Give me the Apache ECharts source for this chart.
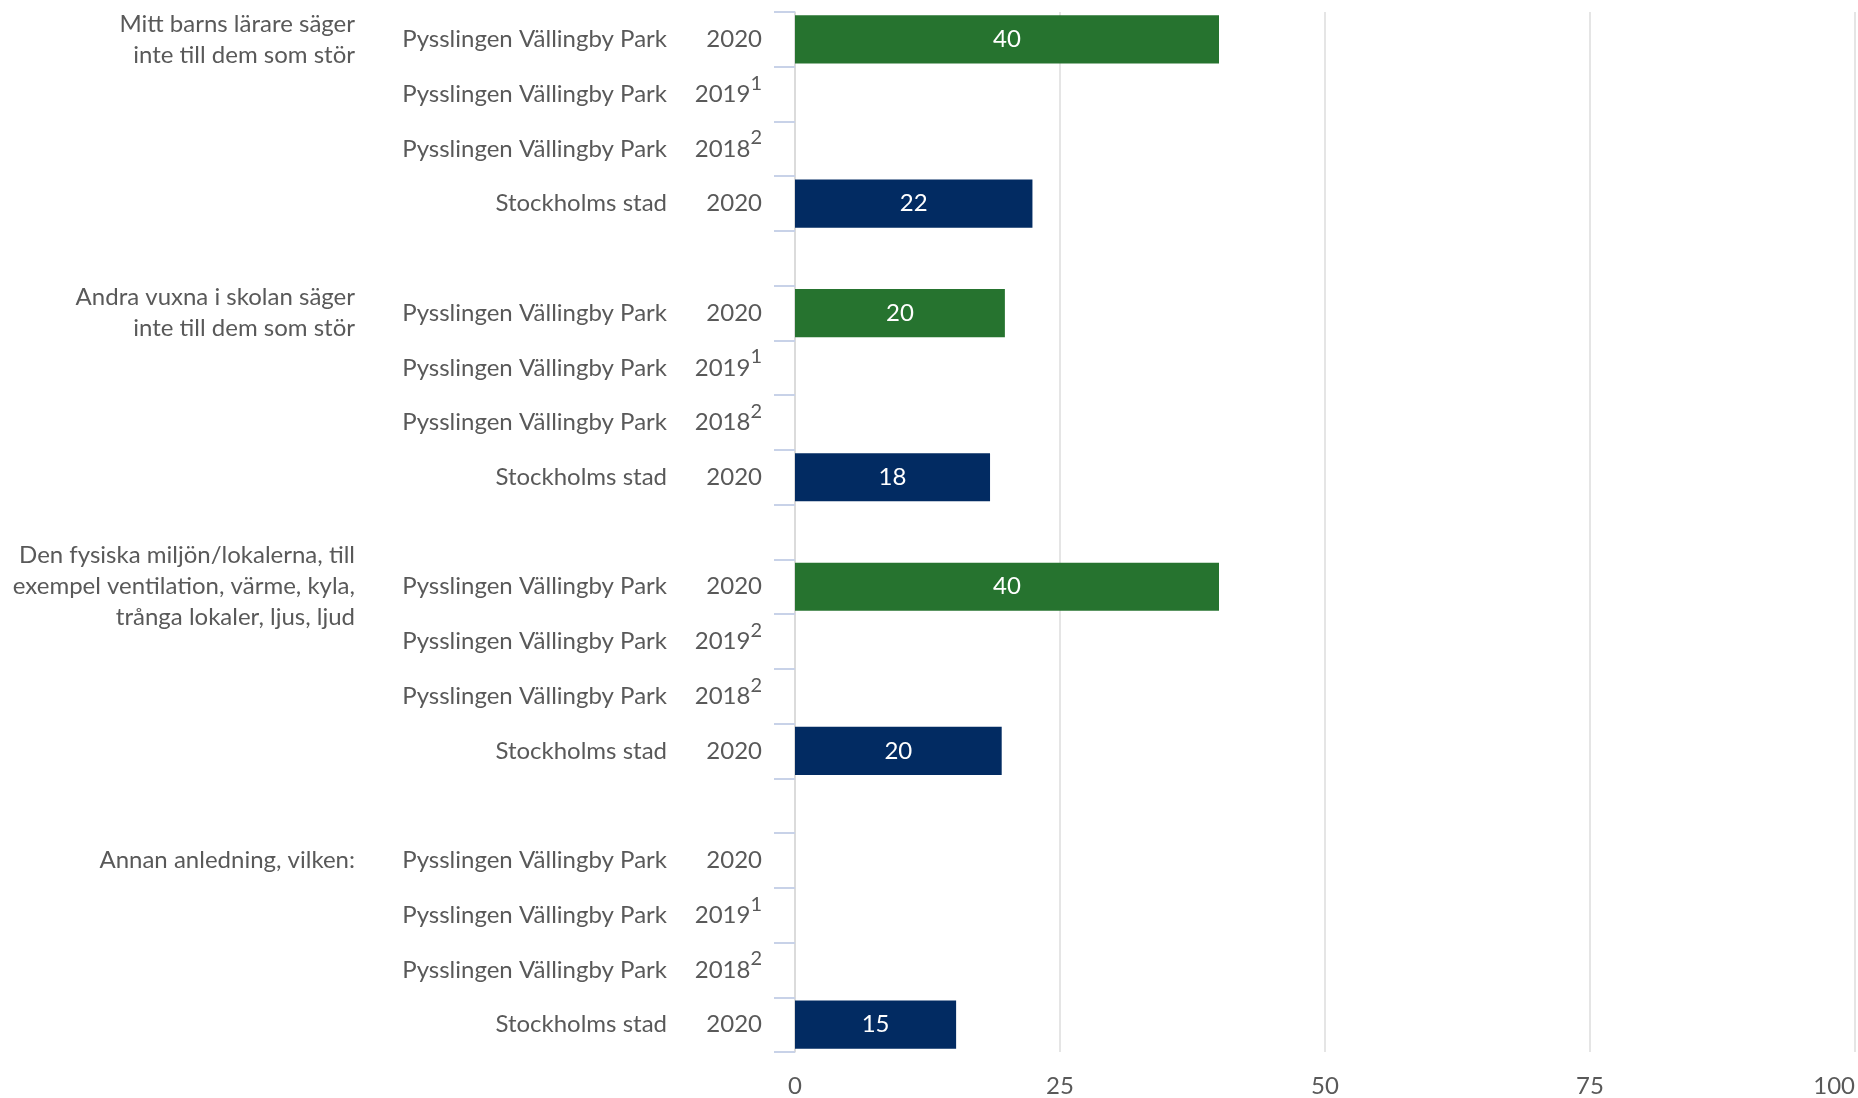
<!DOCTYPE html>
<html lang="sv">
<head>
    <meta charset="UTF-8">
    <title>Anledningar</title>
    <script src="https://cdn.jsdelivr.net/npm/echarts@6/dist/echarts.min.js"></script>
    <style>
        html, body { margin: 0; padding: 0; background: #fff; }
        #chart { width: 1858px; height: 1098px; }
    </style>
</head>
<body>
    <div id="chart"></div>
    <script>
        // question groups, shown once next to the first row of each group
        var groups = [
            'Mitt barns lärare säger\ninte till dem som stör',
            'Andra vuxna i skolan säger\ninte till dem som stör',
            'Den fysiska miljön/lokalerna, till\nexempel ventilation, värme, kyla,\ntrånga lokaler, ljus, ljud',
            'Annan anledning, vilken:'
        ];
        var rowNames = ['Pysslingen Vällingby Park', 'Pysslingen Vällingby Park', 'Pysslingen Vällingby Park', 'Stockholms stad'];
        var rowYears = ['2020', '2019', '2018', '2020'];
        // footnote number per group and row ('' = none)
        var footnotes = [
            ['', '1', '2', ''],
            ['', '1', '2', ''],
            ['', '2', '2', ''],
            ['', '1', '2', '']
        ];
        // values per group
        var skola2020 = [40, 19.8, 40, null];
        var skola2019 = [null, null, null, null];
        var skola2018 = [null, null, null, null];
        var stad2020 = [22.4, 18.4, 19.5, 15.2];
        var xTicks = [0, 25, 50, 75, 100];

        var FONT = 'Lato';
        var GRAY = '#595959';

        // build the 19 rows (4 per group + blank spacer between groups)
        var cats = [], nameLabels = [], yearLabels = [], groupLabels = [];
        var greenData = [], blueData = [];
        for (var g = 0; g < groups.length; g++) {
            var vals = [skola2020[g], skola2019[g], skola2018[g], stad2020[g]];
            for (var r = 0; r < 4; r++) {
                cats.push('g' + g + 'r' + r);
                nameLabels.push(rowNames[r]);
                yearLabels.push(rowYears[r] + (footnotes[g][r] ? '{s|' + footnotes[g][r] + '}' : ''));
                groupLabels.push(r === 0 ? groups[g] : '');
                greenData.push(r < 3 ? vals[r] : null);
                blueData.push(r === 3 ? vals[r] : null);
            }
            if (g < groups.length - 1) {
                cats.push('sep' + g);
                nameLabels.push('');
                yearLabels.push('');
                groupLabels.push('');
                greenData.push(null);
                blueData.push(null);
            }
        }

        var chart = echarts.init(document.getElementById('chart'));

        function labelAxis(labels, margin, extra) {
            var ax = {
                type: 'category',
                data: cats,
                inverse: true,
                position: 'left',
                axisLine: { show: false },
                axisTick: { show: false },
                axisLabel: {
                    interval: 0,
                    margin: margin,
                    fontFamily: FONT,
                    fontSize: 24,
                    color: GRAY,
                    align: 'right',
                    formatter: function (v, i) { return labels[i]; }
                }
            };
            if (extra) Object.assign(ax.axisLabel, extra);
            return ax;
        }

        var nameAxis = labelAxis(nameLabels, 128);
        nameAxis.axisLine = { show: true, lineStyle: { color: '#d9d9d9', width: 1.5 } };
        nameAxis.axisTick = { show: true, length: 21, lineStyle: { color: '#c8d2e8', width: 2 } };

        var option = {
            animation: false,
            grid: { left: 795, right: 1, top: 12, bottom: 43 },
            xAxis: {
                type: 'value',
                min: 0,
                max: 100,
                interval: 25,
                axisLine: { show: false },
                axisTick: { show: false },
                splitLine: { lineStyle: { color: '#dcdcdc', width: 1.5 } },
                axisLabel: {
                    margin: 22,
                    fontFamily: FONT,
                    fontSize: 24,
                    color: GRAY,
                    alignMaxLabel: 'right',
                    formatter: function (v) { return xTicks.indexOf(v) >= 0 ? String(v) : ''; }
                }
            },
            yAxis: [
                nameAxis,
                labelAxis(yearLabels, 33, {
                    rich: { s: { fontFamily: FONT, fontSize: 20, color: GRAY, padding: [0, 0, 22, 0] } }
                }),
                labelAxis(groupLabels, 440, { lineHeight: 31 })
            ],
            series: [
                {
                    name: 'Pysslingen Vällingby Park',
                    type: 'bar',
                    stack: 'rows',
                    yAxisIndex: 0,
                    barCategoryGap: '12%',
                    data: greenData,
                    itemStyle: { color: '#26732f' },
                    label: {
                        show: true,
                        position: 'inside',
                        color: '#fff',
                        fontFamily: FONT,
                        fontSize: 24,
                        formatter: function (p) { return Math.round(p.value); }
                    }
                },
                {
                    name: 'Stockholms stad',
                    type: 'bar',
                    stack: 'rows',
                    yAxisIndex: 0,
                    barCategoryGap: '12%',
                    data: blueData,
                    itemStyle: { color: '#022b62' },
                    label: {
                        show: true,
                        position: 'inside',
                        color: '#fff',
                        fontFamily: FONT,
                        fontSize: 24,
                        formatter: function (p) { return Math.round(p.value); }
                    }
                }
            ]
        };
        chart.setOption(option);
    </script>
</body>
</html>
